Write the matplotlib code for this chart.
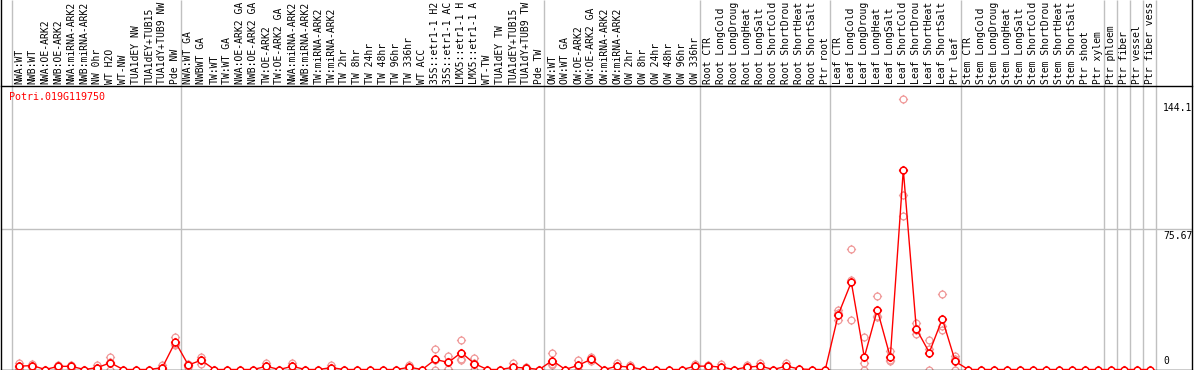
import numpy as np
import matplotlib.pyplot as plt
from matplotlib.path import Path
from matplotlib.transforms import offset_copy

# sample labels (already cut to 14 chars, as shown in the picture)
labels = [
    "NWA:WT", "NWB:WT", "NWA:OE-ARK2", "NWB:OE-ARK2", "NWA:miRNA-ARK2", "NWB:miRNA-ARK2",
    "NW 0hr", "WT H2O", "WT-NW", "TUA1dEY NW", "TUA1dEY+TUB15", "TUA1dY+TUB9 NW", "Pde NW",
    "NWA:WT GA", "NWBWT GA", "TW:WT", "TW:WT GA", "NWA:OE-ARK2 GA", "NWB:OE-ARK2 GA",
    "TW:OE-ARK2", "TW:OE-ARK2 GA", "NWA:miRNA-ARK2", "NWB:miRNA-ARK2", "TW:miRNA-ARK2",
    "TW:miRNA-ARK2", "TW 2hr", "TW 8hr", "TW 24hr", "TW 48hr", "TW 96hr", "TW 336hr",
    "WT ACC", "35S::etr1-1 H2", "35S::etr1-1 AC", "LMX5::etr1-1 H", "LMX5::etr1-1 A",
    "WT-TW", "TUA1dEY TW", "TUA1dEY+TUB15", "TUA1dY+TUB9 TW", "Pde TW",
    "OW:WT", "OW:WT GA", "OW:OE-ARK2", "OW:OE-ARK2 GA", "OW:miRNA-ARK2", "OW:miRNA-ARK2",
    "OW 2hr", "OW 8hr", "OW 24hr", "OW 48hr", "OW 96hr", "OW 336hr",
    "Root CTR", "Root LongCold", "Root LongDroug", "Root LongHeat", "Root LongSalt",
    "Root ShortCold", "Root ShortDrou", "Root ShortHeat", "Root ShortSalt", "Ptr root",
    "Leaf CTR", "Leaf LongCold", "Leaf LongDroug", "Leaf LongHeat", "Leaf LongSalt",
    "Leaf ShortCold", "Leaf ShortDrou", "Leaf ShortHeat", "Leaf ShortSalt", "Ptr leaf",
    "Stem CTR", "Stem LongCold", "Stem LongDroug", "Stem LongHeat", "Stem LongSalt",
    "Stem ShortCold", "Stem ShortDrou", "Stem ShortHeat", "Stem ShortSalt", "Ptr shoot",
    "Ptr xylem", "Ptr phloem", "Ptr fiber", "Ptr vessel", "Ptr fiber vess",
]
group_sizes = [13, 28, 12, 10, 10, 11, 1, 1, 1, 1]

# mean expression per sample
means = [
    1.8, 2.1, 0, 1.7, 1.7, 0, 1.0, 3.6, 0, 0, 0, 1.0, 14.8,
    2.4, 5.0, 0, 0, 0, 0, 1.7, 0, 1.7, 0, 0, 1.0, 0, 0, 0, 0, 0, 1.2,
    0, 5.4, 3.8, 9.1, 3.2, 0, 0, 1.2, 0.8, 0,
    4.8, 0, 2.3, 5.5, 0, 1.8, 1.3, 0, 0, 0, 0, 1.8,
    1.8, 1.3, 0, 1.3, 1.8, 0, 1.8, 0.3, 0, 0,
    29.5, 46.9, 6.6, 32.0, 6.6, 107.2, 21.8, 9.1, 27.2, 4.3,
    0, 0, 0, 0, 0, 0, 0, 0, 0, 0, 0,
    0, 0, 0, 0,
]

# individual replicates (sample index -> values), the rest sit at 0
replicates = {
    0: [3.6, 1.5, 0.3], 1: [2.9, 2.1, 1.3], 3: [2.5, 1.7, 0.9], 4: [2.5, 1.7, 0.9],
    6: [2.2, 0.8, 0], 7: [6.8, 4.0, 0], 11: [2.2, 0.8, 0], 12: [17.2, 13.8, 13.4],
    13: [1.6, 2.4, 3.2], 14: [6.8, 5.0, 3.2], 19: [3.4, 1.7, 0], 21: [3.4, 1.7, 0],
    24: [2.4, 0.6, 0], 30: [2.4, 1.2, 0], 32: [10.9, 5.3, 0], 33: [7.3, 3.8, 0.3],
    34: [16.1, 5.9, 5.3], 35: [6.2, 3.4, 0], 38: [3.6, 0, 0], 39: [1.6, 0.8, 0],
    41: [8.9, 3.2, 2.3], 43: [4.9, 2.0, 0], 44: [6.8, 5.4, 4.3], 46: [3.6, 1.8, 0],
    47: [2.6, 1.3, 0], 52: [3.2, 1.8, 0.4], 53: [2.6, 1.8, 1.0], 54: [3.2, 0.7, 0],
    56: [2.6, 1.3, 0], 57: [3.4, 1.8, 0.2], 59: [3.4, 1.8, 0.2],
    63: [31.7, 30.5, 26.3], 64: [64.8, 47.8, 26.7], 65: [17.7, 3.4, 0],
    66: [39.2, 28.7, 28.1], 67: [9.7, 5.3, 4.8], 68: [145.3, 93.8, 82.5],
    69: [25.1, 21.1, 19.2], 70: [15.9, 11.2, 0], 71: [40.6, 23.6, 21.3],
    72: [7.5, 5.4, 0],
}

gene = "Potri.019G119750"
ref_values = [144.1, 75.67, 0]

W, H = 1194, 370
left_px, right_px, top_px, bot_px = 1, 1192, 86, 369.5
col0_px, step_px = 19.3, 13.0
px_per_unit = 141 / 75.67

fig = plt.figure(figsize=(W / 100, H / 100), dpi=100)
ax = fig.add_axes([left_px / W, 1 - bot_px / H, (right_px - left_px) / W, (bot_px - top_px) / H])
ax.set_xlim((left_px - col0_px) / step_px, (right_px - col0_px) / step_px)
ax.set_ylim(0, (bot_px - top_px) / px_per_unit)
ax.set_xticks([])
ax.set_yticks([])
for s in ["left", "right"]:
    ax.spines[s].set_visible(False)
for s in ["top", "bottom"]:
    ax.spines[s].set_color("black")
    ax.spines[s].set_linewidth(1)

mono = "DejaVu Sans Mono"
xt = ax.get_xaxis_transform()
full = bot_px / (bot_px - top_px)

# group separators through label area and plot
bounds = np.cumsum([0] + group_sizes) - 0.6
ax.vlines(bounds, 0, full, transform=xt, colors="#c0c0c0", lw=1, clip_on=False, zorder=1)
ax.axhline(ref_values[1], color="#c0c0c0", lw=1, zorder=1)
ax.plot([0, 0], [0, full], transform=ax.transAxes, color="black", lw=1, clip_on=False)
ax.plot([1, 1], [0, full], transform=ax.transAxes, color="black", lw=1, clip_on=False)

# sample names
x = np.arange(len(labels))
lab_y = 1 + 2 / (bot_px - top_px)
for i, name in enumerate(labels):
    ax.text(i, lab_y, name, transform=xt, rotation=90, ha="center", va="bottom",
            fontsize=7, family=mono, color="black")

fig.text(9 / W, 1 - 97 / H, gene, color="red", fontsize=7.2, family=mono, ha="left", va="center")

# right side value labels
yt = ax.get_yaxis_transform()
lx = (1163 - left_px) / (right_px - left_px)
for v in ref_values:
    if v == 0:
        tr = offset_copy(yt, fig=fig, x=0, y=3, units="dots")
        ax.text(lx, v, "0", transform=tr, ha="left", va="bottom", fontsize=7, family=mono)
    else:
        tr = offset_copy(yt, fig=fig, x=0, y=-2, units="dots")
        ax.text(lx, v, f"{v:g}", transform=tr, ha="left", va="top", fontsize=7, family=mono)

# circle marker with four little ticks
ticks = Path([(0, 1), (0, 1.35), (0, -1), (0, -1.35), (1, 0), (1.35, 0), (-1, 0), (-1.35, 0)],
             [Path.MOVETO, Path.LINETO] * 4)
ring = Path.make_compound_path(Path.unit_circle(), ticks)

for i, vals in replicates.items():
    ax.plot([i] * len(vals), vals, ls="none", marker=ring, ms=6.6, mfc="none",
            mec="#f09a9a", mew=0.9, clip_on=False, zorder=2)

ax.plot(x, means, color="red", lw=1, zorder=3, clip_on=False)
ax.plot(x, means, ls="none", marker=ring, ms=6.6, mfc="white", mec="red", mew=1.1,
        zorder=4, clip_on=False)

fig.savefig("out.png", dpi=100)
